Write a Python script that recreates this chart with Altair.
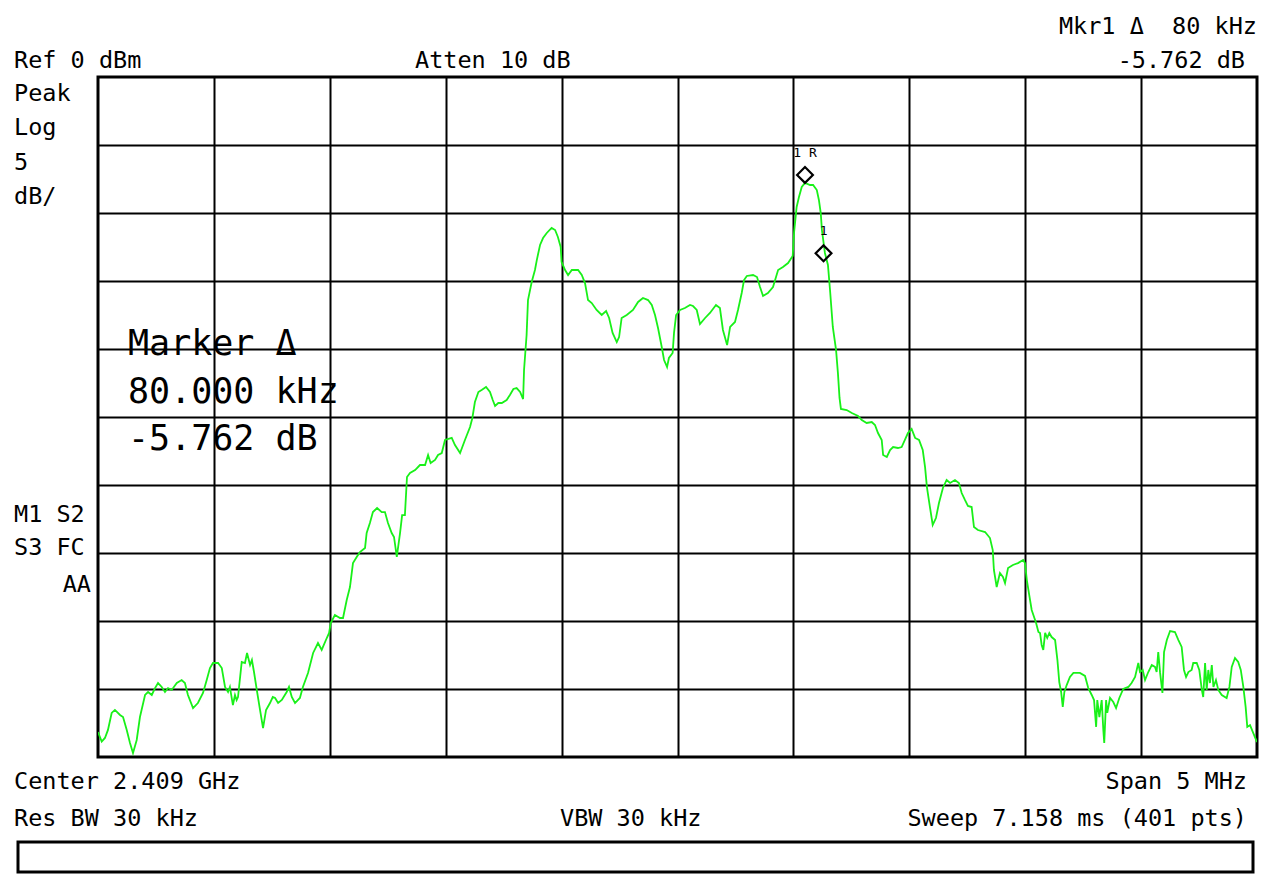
import altair as alt
import pandas as pd

# Trace: frequency (MHz) and level (dBm)
freq_mhz = [
    2406.500, 2406.516, 2406.530, 2406.543, 2406.559, 2406.573, 2406.595, 2406.608, 2406.624, 2406.638,
    2406.651, 2406.667, 2406.681, 2406.703, 2406.716, 2406.732, 2406.746, 2406.759, 2406.775, 2406.789,
    2406.802, 2406.818, 2406.840, 2406.861, 2406.875, 2406.888, 2406.910, 2406.931, 2406.953, 2406.969,
    2406.983, 2406.996, 2407.018, 2407.034, 2407.048, 2407.061, 2407.069, 2407.082, 2407.091, 2407.098,
    2407.104, 2407.120, 2407.134, 2407.143, 2407.156, 2407.164, 2407.173, 2407.185, 2407.199, 2407.212,
    2407.225, 2407.242, 2407.254, 2407.264, 2407.277, 2407.293, 2407.314, 2407.324, 2407.336, 2407.350,
    2407.371, 2407.384, 2407.406, 2407.428, 2407.449, 2407.465, 2407.487, 2407.497, 2407.504, 2407.522,
    2407.544, 2407.557, 2407.573, 2407.587, 2407.600, 2407.616, 2407.630, 2407.652, 2407.659, 2407.673,
    2407.686, 2407.704, 2407.724, 2407.738, 2407.751, 2407.767, 2407.777, 2407.789, 2407.803, 2407.812,
    2407.824, 2407.833, 2407.846, 2407.868, 2407.889, 2407.911, 2407.924, 2407.935, 2407.954, 2407.967,
    2407.983, 2407.997, 2408.026, 2408.040, 2408.062, 2408.083, 2408.105, 2408.115, 2408.126, 2408.141,
    2408.155, 2408.174, 2408.191, 2408.203, 2408.213, 2408.227, 2408.242, 2408.263, 2408.277, 2408.292,
    2408.306, 2408.321, 2408.334, 2408.338, 2408.349, 2408.355, 2408.371, 2408.385, 2408.393, 2408.407,
    2408.420, 2408.436, 2408.457, 2408.472, 2408.484, 2408.496, 2408.500, 2408.515, 2408.528, 2408.544,
    2408.571, 2408.587, 2408.601, 2408.614, 2408.630, 2408.651, 2408.673, 2408.692, 2408.705, 2408.720,
    2408.738, 2408.748, 2408.759, 2408.781, 2408.808, 2408.830, 2408.851, 2408.873, 2408.889, 2408.903,
    2408.916, 2408.932, 2408.942, 2408.955, 2408.963, 2408.979, 2408.985, 2408.994, 2409.011, 2409.032,
    2409.054, 2409.067, 2409.083, 2409.097, 2409.119, 2409.140, 2409.166, 2409.183, 2409.196, 2409.214,
    2409.227, 2409.248, 2409.261, 2409.277, 2409.287, 2409.299, 2409.326, 2409.343, 2409.356, 2409.369,
    2409.390, 2409.412, 2409.434, 2409.455, 2409.477, 2409.497, 2409.503, 2409.514, 2409.524, 2409.536,
    2409.550, 2409.572, 2409.585, 2409.601, 2409.610, 2409.618, 2409.623, 2409.636, 2409.649, 2409.658,
    2409.670, 2409.684, 2409.692, 2409.699, 2409.705, 2409.730, 2409.752, 2409.779, 2409.795, 2409.816,
    2409.838, 2409.852, 2409.865, 2409.881, 2409.887, 2409.903, 2409.917, 2409.930, 2409.951, 2409.967,
    2409.981, 2409.994, 2410.010, 2410.025, 2410.042, 2410.058, 2410.068, 2410.076, 2410.089, 2410.101,
    2410.115, 2410.128, 2410.145, 2410.161, 2410.176, 2410.197, 2410.214, 2410.226, 2410.240, 2410.253,
    2410.269, 2410.279, 2410.296, 2410.327, 2410.348, 2410.360, 2410.365, 2410.377, 2410.391, 2410.404,
    2410.413, 2410.426, 2410.447, 2410.469, 2410.491, 2410.499, 2410.507, 2410.521, 2410.528, 2410.547,
    2410.557, 2410.564, 2410.571, 2410.578, 2410.586, 2410.595, 2410.604, 2410.614, 2410.629, 2410.639,
    2410.647, 2410.655, 2410.662, 2410.669, 2410.679, 2410.693, 2410.708, 2410.736, 2410.758, 2410.772,
    2410.787, 2410.797, 2410.806, 2410.811, 2410.820, 2410.830, 2410.837, 2410.841, 2410.849, 2410.854,
    2410.866, 2410.880, 2410.892, 2410.906, 2410.923, 2410.945, 2410.959, 2410.974, 2410.988, 2410.995,
    2411.007, 2411.017, 2411.031, 2411.046, 2411.060, 2411.067, 2411.074, 2411.082, 2411.092, 2411.099,
    2411.111, 2411.125, 2411.146, 2411.161, 2411.175, 2411.185, 2411.194, 2411.204, 2411.218, 2411.225,
    2411.240, 2411.251, 2411.262, 2411.268, 2411.276, 2411.283, 2411.290, 2411.297, 2411.305, 2411.312,
    2411.323, 2411.333, 2411.348, 2411.369, 2411.381, 2411.391, 2411.405, 2411.419, 2411.430, 2411.441,
    2411.451, 2411.458, 2411.470, 2411.484, 2411.500,
]
level_dbm = [
    -48.16, -48.87, -48.60, -48.01, -46.76, -46.54, -46.91, -47.06, -48.01, -48.97,
    -49.71, -48.75, -47.06, -45.44, -45.22, -45.44, -44.93, -44.56, -44.85, -45.22,
    -44.93, -45.07, -44.56, -44.34, -44.56, -45.44, -46.40, -46.03, -45.29, -44.34,
    -43.46, -43.09, -43.09, -43.46, -44.85, -45.22, -44.85, -46.18, -45.44, -45.81,
    -45.59, -43.01, -43.09, -42.35, -43.24, -42.87, -43.75, -45.07, -46.54, -47.87,
    -46.54, -46.03, -45.59, -45.66, -46.03, -45.81, -45.22, -44.85, -45.59, -46.03,
    -45.66, -44.85, -43.82, -42.35, -41.62, -42.13, -41.25, -40.88, -40.15, -39.56,
    -39.78, -39.78, -38.46, -37.50, -35.74, -35.29, -34.93, -34.63, -33.53, -32.79,
    -31.99, -31.69, -31.99, -31.99, -32.79, -33.53, -33.82, -35.29, -33.53, -32.21,
    -32.21, -29.41, -29.12, -28.90, -28.53, -28.53, -27.79, -28.38, -28.16, -27.79,
    -27.65, -26.69, -26.54, -27.06, -27.65, -26.69, -25.74, -25.07, -23.90, -23.16,
    -23.01, -22.79, -23.16, -23.75, -24.19, -23.97, -23.97, -23.75, -23.38, -22.94,
    -22.87, -23.16, -23.68, -21.54, -18.97, -16.40, -15.07, -14.19, -13.46, -12.35,
    -11.84, -11.47, -11.10, -11.25, -11.76, -12.50, -13.60, -14.19, -14.56, -14.19,
    -14.19, -14.56, -15.15, -16.40, -16.62, -17.13, -17.50, -17.21, -17.72, -18.82,
    -19.49, -19.12, -17.72, -17.50, -17.13, -16.54, -16.25, -16.40, -16.76, -17.50,
    -18.46, -19.85, -20.81, -21.32, -20.66, -20.29, -18.82, -17.50, -17.13, -16.99,
    -16.76, -16.84, -17.13, -18.16, -17.72, -17.35, -16.76, -16.99, -18.60, -19.71,
    -18.38, -18.01, -17.13, -15.88, -14.93, -14.63, -14.56, -14.71, -15.44, -16.10,
    -15.88, -15.44, -14.19, -13.97, -13.68, -13.16, -11.40, -9.56, -8.82, -8.09,
    -7.79, -7.94, -7.94, -8.31, -9.04, -10.00, -11.25, -12.94, -13.82, -15.66,
    -18.38, -20.07, -21.76, -23.60, -24.41, -24.49, -24.71, -24.93, -25.22, -25.44,
    -25.37, -25.59, -26.18, -26.69, -27.79, -27.94, -27.43, -27.21, -27.28, -27.21,
    -26.69, -26.18, -25.88, -26.54, -26.69, -27.43, -28.68, -30.15, -31.62, -32.94,
    -32.43, -31.32, -30.22, -29.63, -29.85, -29.63, -29.85, -30.59, -31.10, -31.54,
    -31.62, -33.09, -33.31, -33.46, -33.90, -34.78, -36.25, -37.50, -36.47, -36.76,
    -37.21, -36.10, -35.88, -35.74, -35.51, -35.74, -36.99, -38.46, -39.19, -40.15,
    -40.81, -40.88, -41.76, -42.13, -40.88, -41.25, -40.88, -41.18, -41.40, -42.87,
    -44.49, -45.22, -46.32, -45.22, -44.71, -44.12, -43.82, -43.82, -44.04, -44.93,
    -45.44, -45.81, -47.79, -45.81, -47.06, -45.81, -48.01, -48.97, -45.81, -46.76,
    -45.66, -45.96, -46.40, -45.66, -45.00, -44.85, -44.56, -44.12, -43.09, -43.75,
    -43.60, -44.34, -43.75, -43.24, -43.38, -43.75, -42.28, -43.82, -45.29, -42.28,
    -41.40, -40.74, -40.81, -41.40, -41.91, -43.60, -44.12, -43.75, -43.60, -43.09,
    -43.09, -43.60, -45.07, -45.59, -43.09, -45.07, -43.60, -44.56, -43.24, -44.85,
    -44.34, -45.07, -45.44, -45.66, -44.85, -43.38, -42.72, -43.01, -43.60, -44.85,
    -46.32, -47.79, -47.65, -48.24, -48.90,
]

# Markers
marker_freq = [2409.550, 2409.630]
marker_level = [-7.79, -13.55]
marker_label = ["1\u00a0R", "1"]

# Axis / grid settings
freq_start, freq_stop = 2406.5, 2411.5
ref_level, bottom_level = 0.0, -50.0
freq_grid = [2407.0, 2407.5, 2408.0, 2408.5, 2409.0, 2409.5, 2410.0, 2410.5, 2411.0]
level_grid = [-45, -40, -35, -30, -25, -20, -15, -10, -5]

W, H = 1159, 680
FONT = "DejaVu Sans Mono"
NB = "\u00a0"

trace = pd.DataFrame({"f": freq_mhz, "p": level_dbm})
markers = pd.DataFrame({"f": marker_freq, "p": marker_level, "lab": marker_label})

xscale = alt.Scale(domain=[freq_start, freq_stop], nice=False, zero=False)
yscale = alt.Scale(domain=[bottom_level, ref_level], nice=False, zero=False)
grid_axis = dict(grid=True, labels=False, ticks=False, domain=False, title="",
                 gridColor="#000000", gridWidth=2, gridOpacity=1)

line = alt.Chart(trace).mark_line(color="#19f019", strokeWidth=1.8, clip=True).encode(
    x=alt.X("f:Q", scale=xscale, axis=alt.Axis(values=freq_grid, **grid_axis)),
    y=alt.Y("p:Q", scale=yscale, axis=alt.Axis(values=level_grid, **grid_axis)),
)

mk = alt.Chart(markers).mark_point(shape="diamond", filled=False, color="#000000",
                                   strokeWidth=2.2, size=250, yOffset=-8, opacity=1).encode(
    x="f:Q", y="p:Q")
mk_text = alt.Chart(markers).mark_text(font=FONT, fontSize=13, dy=-30, color="#000000").encode(
    x="f:Q", y="p:Q", text="lab:N")


def label(text, x, y, size=23.5, align="left"):
    return alt.Chart(alt.Data(values=[{"t": text.replace(" ", NB)}])).mark_text(
        font=FONT, fontSize=size, align=align, baseline="alphabetic", color="#000000"
    ).encode(x=alt.value(x), y=alt.value(y), text="t:N")


labels = [
    label("Ref 0 dBm", -84, -9),
    label("Atten 10 dB", 317, -9),
    label("Mkr1 \u0394  80 kHz", 1159, -43, align="right"),
    label("-5.762 dB", 1147, -9, align="right"),
    label("Peak", -84, 24),
    label("Log", -84, 58),
    label("5", -84, 93),
    label("dB/", -84, 127),
    label("M1 S2", -84, 445),
    label("S3 FC", -84, 478),
    label("AA", -7, 515, align="right"),
    label("Center 2.409 GHz", -84, 712),
    label("Span 5 MHz", 1149, 712, align="right"),
    label("Res BW 30 kHz", -84, 749),
    label("VBW 30 kHz", 462, 749),
    label("Sweep 7.158 ms (401 pts)", 1149, 749, align="right"),
    label("Marker \u0394", 30, 278, size=35),
    label("80.000 kHz", 30, 326, size=35),
    label("-5.762 dB", 30, 373, size=35),
]

box = alt.Chart(alt.Data(values=[{"b": 1}])).mark_rect(
    fill="#ffffff", stroke="#000000", strokeWidth=3
).encode(x=alt.value(-80), x2=alt.value(1155), y=alt.value(765), y2=alt.value(795))

chart = alt.layer(line, mk, mk_text, box, *labels).properties(
    width=W, height=H,
    autosize=alt.AutoSizeParams(type="none"),
    padding={"left": 90, "top": 69, "right": 5, "bottom": 117},
    background="#ffffff",
).configure_view(stroke="#000000", strokeWidth=3)

chart.save("out.html", embed_options={"renderer": "svg", "actions": False})
